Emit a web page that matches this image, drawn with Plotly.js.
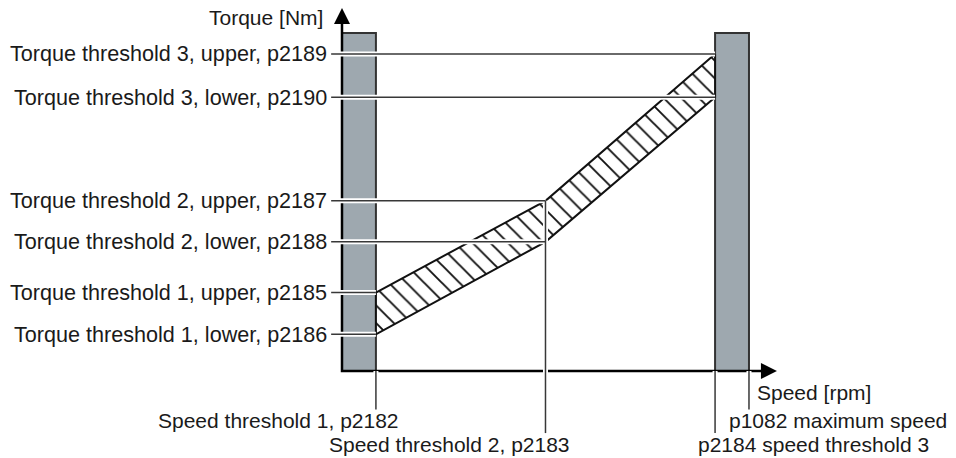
<!DOCTYPE html>
<html><head><meta charset="utf-8">
<script src="https://cdn.plot.ly/plotly-3.0.1.min.js"></script>
<style>html,body{margin:0;padding:0;background:#fff}#chart{width:956px;height:458px}</style>
</head><body><div id="chart"></div>
<script>
// ---- data (schematic values) ----
// speed thresholds [rpm]: p2182, p2183, p2184, p1082
const speedValues = [250, 1500, 2750, 3000];
const speedLabels = ['Speed threshold 1, p2182', 'Speed threshold 2, p2183',
                     'p2184 speed threshold 3', 'p1082 maximum speed'];
// torque thresholds [Nm]
const torqueUpper = [23.5, 51, 95];   // p2185, p2187, p2189
const torqueLower = [11, 38.7, 82];   // p2186, p2188, p2190
const torqueUpperLabels = ['Torque threshold 1, upper, p2185',
                           'Torque threshold 2, upper, p2187',
                           'Torque threshold 3, upper, p2189'];
const torqueLowerLabels = ['Torque threshold 1, lower, p2186',
                           'Torque threshold 2, lower, p2188',
                           'Torque threshold 3, lower, p2190'];
const torqueMax = 101.3;               // height of the grey forbidden bands
const axisTitles = ['Speed [rpm]', 'Torque [Nm]'];

// ---- layout constants ----
const X_RANGE = [-2521, 4526];
const Y_RANGE = [-26.07, 111.18];
const X_TIP = 3206, Y_TIP = 108.8;
const LEAD_X = -80;
const LEAD_SHORT = -11.5, LEAD_LONG = -18.6;
const FONT_L = {family: 'Liberation Sans, Arial, sans-serif', size: 21.6, color: '#1a1a1a'};
const FONT_B = {family: 'Liberation Sans, Arial, sans-serif', size: 21, color: '#1a1a1a'};
const DARK = '#383838';

const [s1, s2, s3, sMax] = speedValues;
const traces = [];

// grey bars
function bar(x0, x1) {
  traces.push({type: 'scatter', mode: 'lines', x: [x0, x1, x1, x0, x0], y: [0, 0, torqueMax, torqueMax, 0],
    fill: 'toself', fillcolor: '#9ea8af', line: {color: '#333', width: 2}, hoverinfo: 'skip'});
}
bar(0, s1);
bar(s3, sMax);

// hatched band
const bandX = [s1, s2, s3, s3, s2, s1, s1];
const bandY = [torqueUpper[0], torqueUpper[1], torqueUpper[2], torqueLower[2], torqueLower[1], torqueLower[0], torqueUpper[0]];
traces.push({type: 'scatter', mode: 'lines', x: bandX, y: bandY, fill: 'toself',
  fillcolor: 'rgba(0,0,0,0)',
  fillpattern: {shape: '\\', fgcolor: '#111', bgcolor: '#fff', size: 12.5, solidity: 0.15},
  line: {color: '#111', width: 2}, hoverinfo: 'skip'});

// axes
traces.push({type: 'scatter', mode: 'lines', x: [0, 0, X_TIP - 80], y: [Y_TIP - 3, 0, 0],
  line: {color: '#000', width: 2.5}, hoverinfo: 'skip'});

// threshold leader lines
const lines = [];
const speedOfLevel = [s1, s2, s3];
for (let i = 0; i < 3; i++) {
  lines.push({x: [LEAD_X, speedOfLevel[i]], y: [torqueUpper[i], torqueUpper[i]]});
  lines.push({x: [LEAD_X, speedOfLevel[i]], y: [torqueLower[i], torqueLower[i]]});
}
lines.push({x: [s1, s1], y: [0, LEAD_SHORT]});
lines.push({x: [s2, s2], y: [torqueUpper[1], LEAD_LONG]});
lines.push({x: [s3, s3], y: [0, LEAD_LONG]});
lines.push({x: [sMax, sMax], y: [0, LEAD_SHORT]});
lines.forEach(l => traces.push({type: 'scatter', mode: 'lines', x: l.x, y: l.y,
  line: {color: '#fff', width: 5}, hoverinfo: 'skip'}));
lines.forEach(l => traces.push({type: 'scatter', mode: 'lines', x: l.x, y: l.y,
  line: {color: DARK, width: 1.5}, hoverinfo: 'skip'}));

// arrow heads
traces.push({type: 'scatter', mode: 'markers', x: [0], y: [Y_TIP],
  marker: {symbol: 'arrow-up', size: 16, color: '#000'}, hoverinfo: 'skip'});
traces.push({type: 'scatter', mode: 'markers', x: [X_TIP], y: [0],
  marker: {symbol: 'arrow-right', size: 16, color: '#000'}, hoverinfo: 'skip'});

// annotations
const ann = [];
for (let i = 0; i < 3; i++) {
  ann.push({x: 0, y: torqueUpper[i], text: torqueUpperLabels[i], xanchor: 'right', yanchor: 'middle', xshift: -13, font: FONT_L});
  ann.push({x: 0, y: torqueLower[i], text: torqueLowerLabels[i], xanchor: 'right', yanchor: 'middle', xshift: -13, font: FONT_L});
}
ann.push({x: 0, y: 1 - 17 / 458, yref: 'paper', text: axisTitles[1], xanchor: 'right', yanchor: 'middle', xshift: -17});
ann.push({x: sMax, y: 1 - 392 / 458, yref: 'paper', text: axisTitles[0], xanchor: 'left', yanchor: 'middle', xshift: 6});
ann.push({x: s1, y: 1 - 420 / 458, yref: 'paper', text: speedLabels[0], xanchor: 'right', yanchor: 'middle', xshift: 25});
ann.push({x: s2, y: 1 - 444 / 458, yref: 'paper', text: speedLabels[1], xanchor: 'right', yanchor: 'middle', xshift: 27});
ann.push({x: s3, y: 1 - 444 / 458, yref: 'paper', text: speedLabels[2], xanchor: 'left', yanchor: 'middle', xshift: -19});
ann.push({x: sMax, y: 1 - 420 / 458, yref: 'paper', text: speedLabels[3], xanchor: 'left', yanchor: 'middle', xshift: -22});
ann.forEach(a => { a.showarrow = false; if (!a.font) a.font = FONT_B; if (!a.xref) a.xref = 'x'; if (!a.yref) a.yref = 'y'; });

const layout = {
  width: 956, height: 458, margin: {l: 0, r: 0, t: 0, b: 0},
  paper_bgcolor: '#fff', plot_bgcolor: '#fff', showlegend: false, hovermode: false,
  xaxis: {range: X_RANGE, visible: false, fixedrange: true},
  yaxis: {range: Y_RANGE, visible: false, fixedrange: true},
  annotations: ann
};
Plotly.newPlot('chart', traces, layout, {displayModeBar: false, staticPlot: true});
</script></body></html>
